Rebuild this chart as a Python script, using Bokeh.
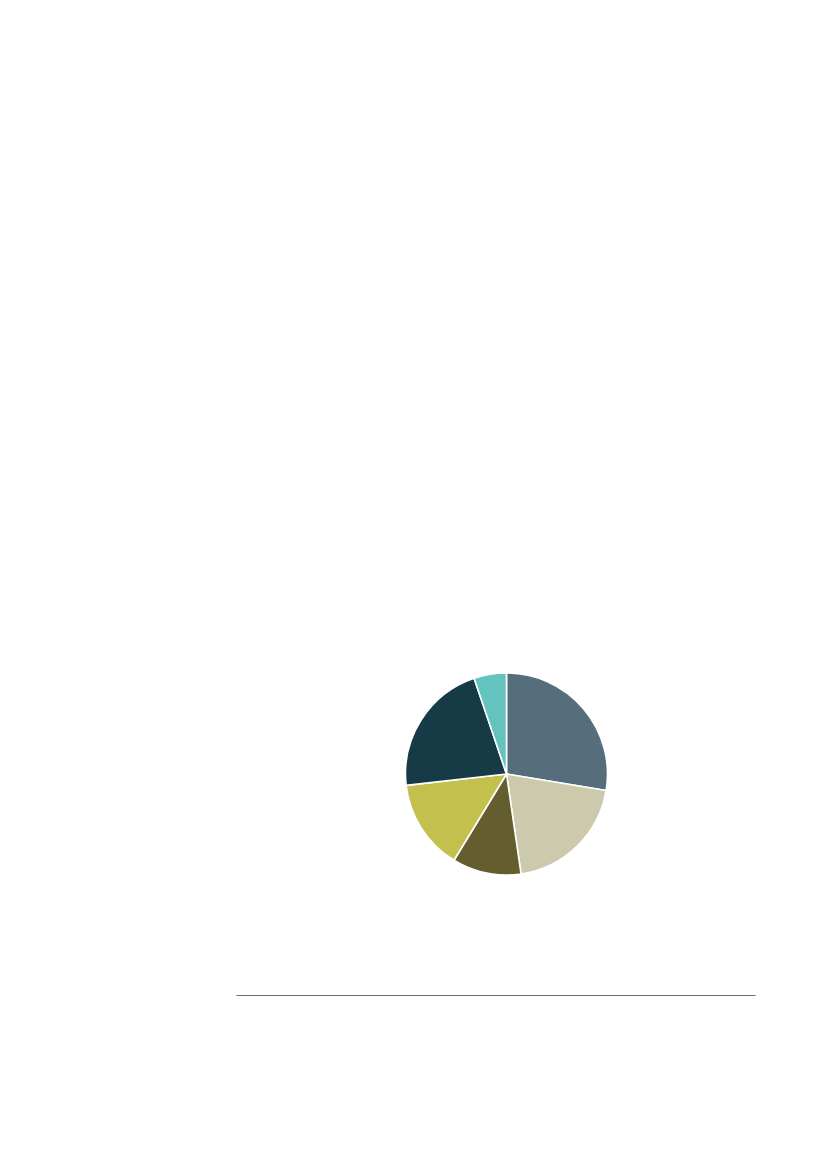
import math
from bokeh.plotting import figure
from bokeh.models import Range1d, ColumnDataSource
from bokeh.embed import file_html
from bokeh.resources import INLINE

# Data (share of the pie, percent), clockwise from 12 o'clock
segments = ["A", "B", "C", "D", "E", "F"]
shares = [27.6, 20.1, 11.0, 14.5, 21.6, 5.2]
colors = ["#566e7c", "#cdc9ac", "#645e2f", "#c4c04e", "#163a46", "#63c3bf"]

W, H = 811, 1153
p = figure(width=W, height=H, output_backend="svg", toolbar_location=None,
           x_range=Range1d(0, W), y_range=Range1d(1169 - H, 1169),
           min_border=0, outline_line_color=None)
p.axis.visible = False
p.grid.visible = False
p.background_fill_color = "white"
p.border_fill_color = "white"

total = sum(shares)
starts, ends = [], []
cum = 0.0
for s in shares:
    starts.append(math.pi / 2 - cum / total * 2 * math.pi)
    cum += s
    ends.append(math.pi / 2 - cum / total * 2 * math.pi)

# page coordinates -> data (y flipped)
cx, cy = 506, 1169 - 773.5
src = ColumnDataSource(dict(seg=segments, share=shares, color=colors,
                            start=starts, end=ends))
p.wedge(x=cx, y=cy, radius=101, start_angle="start", end_angle="end",
        direction="clock", fill_color="color", line_color="white",
        line_width=1.6, source=src)

# horizontal rule beneath the chart
p.segment(x0=[236], y0=[1169 - 995], x1=[755], y1=[1169 - 995],
          line_color="#5b6f80", line_width=1.2)

open("out.html", "w").write(file_html(p, INLINE))
